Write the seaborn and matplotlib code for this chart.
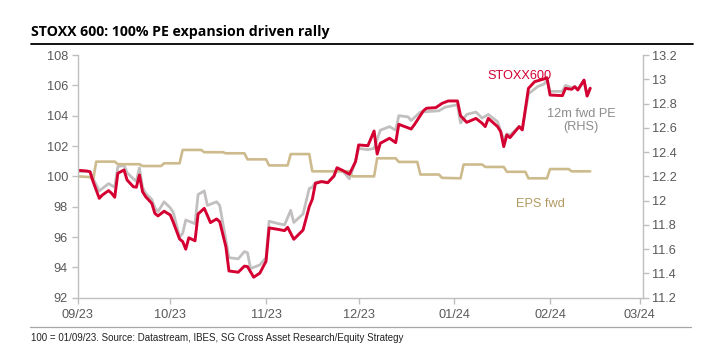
import matplotlib
matplotlib.use("Agg")
import matplotlib.pyplot as plt
import matplotlib.dates as mdates
from matplotlib.lines import Line2D
import pandas as pd
import seaborn as sns

# ---------------- data ----------------
stoxx_dates = [
    "2023-09-01", "2023-09-04", "2023-09-05", "2023-09-06", "2023-09-08", "2023-09-09",
    "2023-09-11", "2023-09-12", "2023-09-13", "2023-09-14", "2023-09-16", "2023-09-17",
    "2023-09-19", "2023-09-20", "2023-09-21", "2023-09-22", "2023-09-23", "2023-09-25",
    "2023-09-26", "2023-09-27", "2023-09-29", "2023-10-01", "2023-10-02", "2023-10-04",
    "2023-10-05", "2023-10-06", "2023-10-07", "2023-10-09", "2023-10-10", "2023-10-12",
    "2023-10-14", "2023-10-16", "2023-10-17", "2023-10-19", "2023-10-20", "2023-10-23",
    "2023-10-25", "2023-10-26", "2023-10-28", "2023-10-30", "2023-11-01", "2023-11-02",
    "2023-11-05", "2023-11-07", "2023-11-08", "2023-11-10", "2023-11-13", "2023-11-15",
    "2023-11-16", "2023-11-17", "2023-11-19", "2023-11-21", "2023-11-23", "2023-11-24",
    "2023-11-26", "2023-11-28", "2023-11-30", "2023-12-01", "2023-12-04", "2023-12-06",
    "2023-12-07", "2023-12-08", "2023-12-11", "2023-12-13", "2023-12-14", "2023-12-18",
    "2023-12-19", "2023-12-22", "2023-12-23", "2023-12-26", "2023-12-28", "2023-12-30",
    "2024-01-02", "2024-01-03", "2024-01-05", "2024-01-08", "2024-01-10", "2024-01-11",
    "2024-01-12", "2024-01-15", "2024-01-16", "2024-01-17", "2024-01-18", "2024-01-19",
    "2024-01-22", "2024-01-23", "2024-01-25", "2024-01-27", "2024-01-30", "2024-01-31",
    "2024-02-01", "2024-02-05", "2024-02-06", "2024-02-08", "2024-02-09", "2024-02-10",
    "2024-02-12", "2024-02-13", "2024-02-14",
]
stoxx_values = [
    100.4, 100.35, 100.3, 99.65, 98.55, 98.77,
    99.06, 98.88, 98.62, 100.2, 100.42, 99.76,
    99.32, 99.28, 100.09, 98.99, 98.66, 98.22,
    97.56, 97.39, 97.7, 97.45, 96.95, 95.87,
    95.7, 95.2, 95.95, 95.75, 97.52, 97.89,
    96.95, 97.19, 97.01, 95.36, 93.76, 93.68,
    94.08, 94.05, 93.35, 93.62, 94.4, 96.6,
    96.5, 96.42, 96.64, 95.85, 96.46, 98.0,
    98.49, 99.54, 99.65, 99.58, 100.02, 100.57,
    100.37, 100.14, 100.97, 102.07, 102.02, 102.99,
    101.47, 102.18, 102.51, 102.22, 103.43, 103.12,
    103.39, 104.33, 104.49, 104.53, 104.81, 104.97,
    104.97, 104.0, 103.56, 103.82, 103.5, 103.28,
    103.82, 103.28, 102.95, 101.96, 102.73, 102.55,
    103.28, 103.06, 105.8, 106.24, 106.42, 106.5,
    105.36, 105.32, 105.8, 105.74, 105.91, 105.69,
    106.35, 105.3, 105.8,
]

pe_dates = [
    "2023-09-01", "2023-09-05", "2023-09-06", "2023-09-08", "2023-09-11", "2023-09-13",
    "2023-09-14", "2023-09-16", "2023-09-17", "2023-09-19", "2023-09-20", "2023-09-21",
    "2023-09-22", "2023-09-23", "2023-09-25", "2023-09-26", "2023-09-27", "2023-09-29",
    "2023-10-01", "2023-10-02", "2023-10-04", "2023-10-05", "2023-10-06", "2023-10-09",
    "2023-10-10", "2023-10-12", "2023-10-13", "2023-10-16", "2023-10-17", "2023-10-20",
    "2023-10-23", "2023-10-25", "2023-10-26", "2023-10-27", "2023-10-30", "2023-11-01",
    "2023-11-02", "2023-11-05", "2023-11-07", "2023-11-09", "2023-11-10", "2023-11-13",
    "2023-11-15", "2023-11-16", "2023-11-17", "2023-11-19", "2023-11-21", "2023-11-23",
    "2023-11-24", "2023-11-26", "2023-11-28", "2023-11-30", "2023-12-01", "2023-12-04",
    "2023-12-06", "2023-12-08", "2023-12-11", "2023-12-13", "2023-12-14", "2023-12-17",
    "2023-12-18", "2023-12-21", "2023-12-27", "2023-12-29", "2024-01-02", "2024-01-03",
    "2024-01-05", "2024-01-08", "2024-01-10", "2024-01-12", "2024-01-15", "2024-01-17",
    "2024-01-18", "2024-01-19", "2024-01-22", "2024-01-23", "2024-01-25", "2024-01-28",
    "2024-01-30", "2024-01-31", "2024-02-01", "2024-02-05", "2024-02-06", "2024-02-08",
    "2024-02-09", "2024-02-10", "2024-02-12", "2024-02-13", "2024-02-14",
]
pe_values = [
    12.24, 12.24, 12.18, 12.08, 12.14, 12.11,
    12.28, 12.29, 12.23, 12.18, 12.16, 12.27,
    12.11, 12.06, 12.01, 11.94, 11.91, 11.99,
    11.94, 11.90, 11.70, 11.73, 11.84, 11.81,
    12.05, 12.08, 11.96, 11.99, 11.96, 11.53,
    11.52, 11.58, 11.57, 11.44, 11.47, 11.53,
    11.83, 11.81, 11.80, 11.92, 11.82, 11.89,
    12.10, 12.11, 12.15, 12.16, 12.15, 12.20,
    12.26, 12.24, 12.18, 12.33, 12.43, 12.42,
    12.43, 12.58, 12.61, 12.58, 12.70, 12.69,
    12.66, 12.73, 12.74, 12.77, 12.79, 12.64,
    12.71, 12.73, 12.68, 12.71, 12.65, 12.50,
    12.55, 12.54, 12.61, 12.59, 12.88, 12.94,
    12.96, 12.99, 12.90, 12.90, 12.95, 12.93,
    12.94, 12.92, 12.99, 12.86, 12.93,
]

eps_dates = [
    "2023-09-01", "2023-09-05", "2023-09-06", "2023-09-07", "2023-09-13", "2023-09-14",
    "2023-09-21", "2023-09-22", "2023-09-28", "2023-09-29", "2023-10-04", "2023-10-05",
    "2023-10-11", "2023-10-12", "2023-10-18", "2023-10-19", "2023-10-25", "2023-10-26",
    "2023-11-01", "2023-11-02", "2023-11-08", "2023-11-09", "2023-11-15", "2023-11-16",
    "2023-11-28", "2023-11-29", "2023-12-06", "2023-12-07", "2023-12-13", "2023-12-14",
    "2023-12-20", "2023-12-21", "2023-12-27", "2023-12-28", "2024-01-03", "2024-01-04",
    "2024-01-10", "2024-01-11", "2024-01-17", "2024-01-18", "2024-01-24", "2024-01-25",
    "2024-01-31", "2024-02-01", "2024-02-07", "2024-02-08", "2024-02-14",
]
eps_values = [
    100.0, 99.95, 99.75, 100.97, 100.97, 100.8,
    100.8, 100.68, 100.68, 100.86, 100.86, 101.74,
    101.74, 101.59, 101.59, 101.52, 101.52, 101.12,
    101.12, 100.72, 100.72, 101.47, 101.47, 100.33,
    100.33, 100.0, 100.0, 101.19, 101.19, 100.95,
    100.95, 100.12, 100.12, 99.9, 99.87, 100.78,
    100.78, 100.62, 100.62, 100.3, 100.3, 99.87,
    99.87, 100.48, 100.48, 100.33, 100.33,
]

month_ticks = ["2023-09-01", "2023-10-01", "2023-11-01", "2023-12-01",
               "2024-01-01", "2024-02-01", "2024-03-01"]
left_ticks = [92, 94, 96, 98, 100, 102, 104, 106, 108]
right_ticks = [11.2, 11.4, 11.6, 11.8, 12.0, 12.2, 12.4, 12.6, 12.8, 13.0, 13.2]
right_tick_labels = ["11.2", "11.4", "11.6", "11.8", "12", "12.2", "12.4",
                     "12.6", "12.8", "13", "13.2"]

title = "STOXX 600: 100% PE expansion driven rally"
footnote = "100 = 01/09/23. Source: Datastream, IBES, SG Cross Asset Research/Equity Strategy"

# ---------------- styling ----------------
RED = "#D50032"
GREY = "#C2BFBF"
TAN = "#CDBB8E"
AXIS = "#BFBFBF"
TXT = "#595959"

sns.set_theme(style="white")
plt.rcParams["font.family"] = ["Liberation Sans", "DejaVu Sans"]

stoxx = pd.DataFrame({"date": pd.to_datetime(stoxx_dates), "value": stoxx_values})
pe = pd.DataFrame({"date": pd.to_datetime(pe_dates), "value": pe_values})
eps = pd.DataFrame({"date": pd.to_datetime(eps_dates), "value": eps_values})

fig = plt.figure(figsize=(7.16, 3.56), dpi=100)
ax = fig.add_axes([0.1085, 0.1638, 0.7891, 0.6817])
ax2 = ax.twinx()

sns.lineplot(data=pe, x="date", y="value", ax=ax2, color=GREY, linewidth=2.0)
sns.lineplot(data=eps, x="date", y="value", ax=ax, color=TAN, linewidth=1.9)
sns.lineplot(data=stoxx, x="date", y="value", ax=ax, color=RED, linewidth=2.1)

ax.set_zorder(ax2.get_zorder() + 1)
ax.patch.set_visible(False)

x0 = pd.Timestamp("2023-09-01")
x1 = pd.Timestamp("2024-03-02")
ax.set_xlim(x0, x1)
ax.set_ylim(92, 108)
ax2.set_ylim(11.2, 13.2)

ax.set_xticks(pd.to_datetime(month_ticks))
ax.xaxis.set_major_formatter(mdates.DateFormatter("%m/%y"))
ax.set_yticks(left_ticks)
ax.set_yticklabels([str(t) for t in left_ticks])
ax2.set_yticks(right_ticks)
ax2.set_yticklabels(right_tick_labels)

for a in (ax, ax2):
    a.set_xlabel("")
    a.set_ylabel("")
    a.grid(False)
    for s in a.spines.values():
        s.set_color(AXIS)
        s.set_linewidth(1.0)
    a.spines["top"].set_visible(False)

ax.spines["right"].set_visible(False)
ax2.spines["left"].set_visible(False)
ax2.spines["bottom"].set_visible(False)

ax.tick_params(axis="both", colors=AXIS, labelcolor=TXT, labelsize=9.2,
               length=4, width=1.0, direction="out", pad=3)
ax.tick_params(axis="x", pad=4)
ax.tick_params(left=True, bottom=True)
ax2.tick_params(axis="y", colors=AXIS, labelcolor=TXT, labelsize=9.2,
                length=4, width=1.0, direction="out", pad=3, right=True)

# series labels
ax.text(pd.Timestamp("2024-01-22"), 106.6, "STOXX600", color=RED, fontsize=9.2,
        ha="center", va="center")
ax.text(pd.Timestamp("2024-02-11"), 103.7, "12m fwd PE\n(RHS)", color="#8C8C8C",
        fontsize=9.2, ha="center", va="center", linespacing=1.1)
ax.text(pd.Timestamp("2024-01-29"), 98.2, "EPS fwd", color="#B29A62", fontsize=9.2,
        ha="center", va="center")

# title, rules, footnote
fig.text(31 / 716, 1 - 32 / 356, title, fontsize=10.2, fontweight="bold",
         family=["Open Sans", "DejaVu Sans"], color="#000000", ha="left", va="center")
fig.add_artist(Line2D([31 / 716, 693 / 716], [1 - 44 / 356, 1 - 44 / 356],
                      color="#000000", linewidth=1.3, transform=fig.transFigure))
fig.add_artist(Line2D([30 / 716, 691 / 716], [1 - 327 / 356, 1 - 327 / 356],
                      color="#A6A6A6", linewidth=0.9, transform=fig.transFigure))
fig.text(31 / 716, 1 - 338 / 356, footnote, fontsize=7.0,
         family=["Liberation Sans", "DejaVu Sans"],
         color="#222222", ha="left", va="center")

fig.savefig("out.png", dpi=100, facecolor="white")
